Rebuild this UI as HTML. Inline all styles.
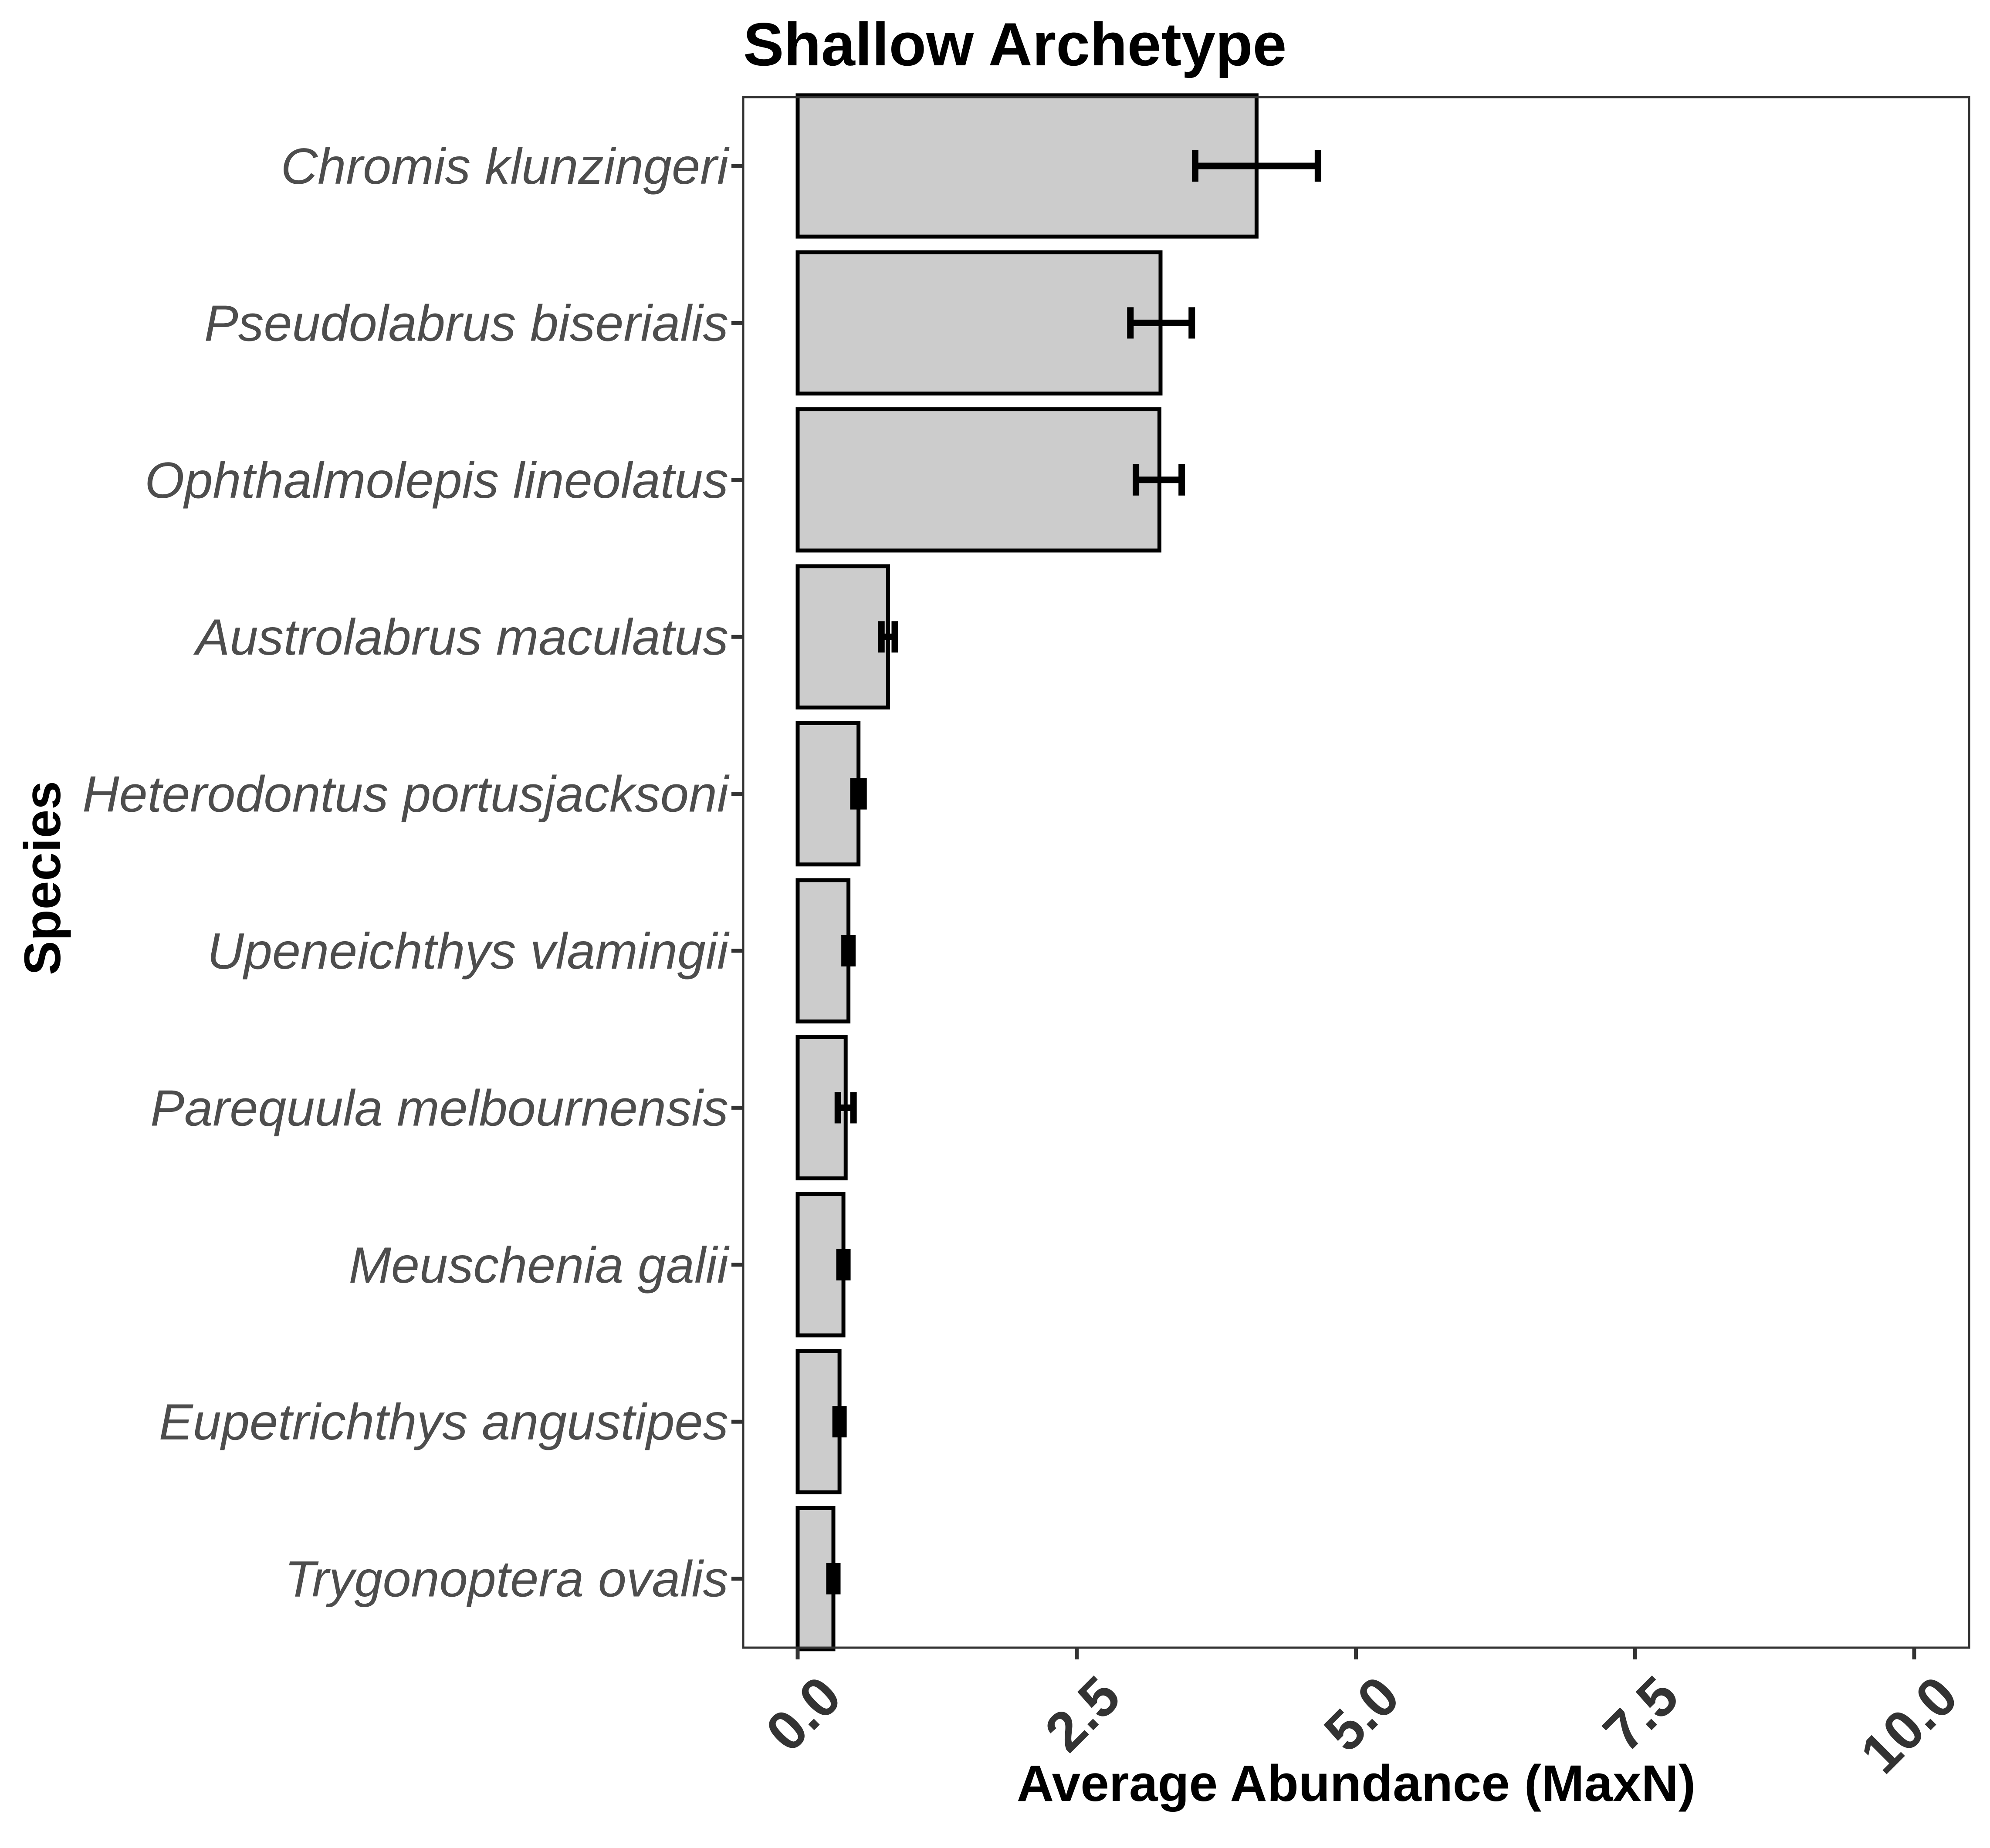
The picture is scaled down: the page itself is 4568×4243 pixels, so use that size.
<!DOCTYPE html>
<html><head><meta charset="utf-8"><style>
html,body{margin:0;padding:0;background:#fff}
svg{display:block}
</style></head><body>
<svg id="chart" width="4568" height="4243" viewBox="0 0 4568 4243" xmlns="http://www.w3.org/2000/svg">
<rect x="0" y="0" width="4568" height="4243" fill="#fff"/>
<text x="1706" y="150" font-family="Liberation Sans, sans-serif" font-weight="bold" font-size="140" fill="#000">Shallow Archetype</text>
<g id="bars"></g>
<g id="errs"></g>
<rect x="1706" y="223" width="2814" height="3560" fill="none" stroke="#333" stroke-width="5"/>
<g id="yaxis"></g>
<g id="xaxis"></g>
<text x="3113" y="4135" text-anchor="middle" font-family="Liberation Sans, sans-serif" font-weight="bold" font-size="118" fill="#000">Average Abundance (MaxN)</text>
<text transform="translate(138,2016) rotate(-90)" text-anchor="middle" font-family="Liberation Sans, sans-serif" font-weight="bold" font-size="118" fill="#000">Species</text>
</svg>
<script>
const species = ["Chromis klunzingeri","Pseudolabrus biserialis","Ophthalmolepis lineolatus","Austrolabrus maculatus","Heterodontus portusjacksoni","Upeneichthys vlamingii","Parequula melbournensis","Meuschenia galii","Eupetrichthys angustipes","Trygonoptera ovalis"];
const means = [4.11, 3.25, 3.24, 0.81, 0.545, 0.455, 0.43, 0.41, 0.375, 0.32];
const errLow = [3.56, 2.98, 3.03, 0.75, 0.50, 0.42, 0.36, 0.375, 0.34, 0.285];
const errHigh = [4.66, 3.53, 3.44, 0.87, 0.59, 0.49, 0.50, 0.445, 0.41, 0.355];
const xTicks = [0, 2.5, 5, 7.5, 10];
const xTickLabels = ["0.0", "2.5", "5.0", "7.5", "10.0"];

const NS = "http://www.w3.org/2000/svg";
const X0 = 1831, XS = 256.3;
const xScale = v => X0 + v * XS;
const Y0 = 381, YS = 360.4;
const yScale = i => Y0 + i * YS;
const bw = 0.9 * YS;
function mk(tag, attrs, parent) {
  const e = document.createElementNS(NS, tag);
  for (const k in attrs) e.setAttribute(k, attrs[k]);
  parent.appendChild(e);
  return e;
}
const gb = document.getElementById('bars'), ge = document.getElementById('errs');
const gy = document.getElementById('yaxis'), gx = document.getElementById('xaxis');
species.forEach((s, i) => {
  const cy = yScale(i);
  const r = mk('rect', {x: xScale(0), y: cy - bw/2, width: xScale(means[i]) - xScale(0), height: bw, fill: '#cccccc', stroke: '#000', 'stroke-width': 9}, gb);
  
  
  const g = mk('g', {}, ge);
  
  
  const a = xScale(errLow[i]), b = xScale(errHigh[i]);
  mk('line', {x1: a, x2: b, y1: cy, y2: cy, stroke: '#000', 'stroke-width': 15}, g);
  mk('line', {x1: a, x2: a, y1: cy - 36, y2: cy + 36, stroke: '#000', 'stroke-width': 15}, g);
  mk('line', {x1: b, x2: b, y1: cy - 36, y2: cy + 36, stroke: '#000', 'stroke-width': 15}, g);
  const t = mk('line', {x1: 1679, x2: 1706, y1: cy, y2: cy, stroke: '#333', 'stroke-width': 9}, gy);
  
  
  const l = mk('text', {x: 1672, y: cy + 41, 'text-anchor': 'end', 'font-family': 'Liberation Sans, sans-serif', 'font-style': 'italic', 'font-size': 117, fill: '#4d4d4d'}, gy);
  l.textContent = s;
  
  
});
xTicks.forEach((v, i) => {
  const x = xScale(v);
  const t = mk('line', {x1: x, x2: x, y1: 3783, y2: 3810, stroke: '#333', 'stroke-width': 9}, gx);
  
  
  const l = mk('text', {transform: 'translate(' + (x + 42) + ',3838) rotate(-45)', 'text-anchor': 'end', 'font-family': 'Liberation Sans, sans-serif', 'font-weight': 'bold', 'font-size': 128, fill: '#333', dy: '0.72em'}, gx);
  l.textContent = xTickLabels[i];
  
  
});
</script>
</body></html>
